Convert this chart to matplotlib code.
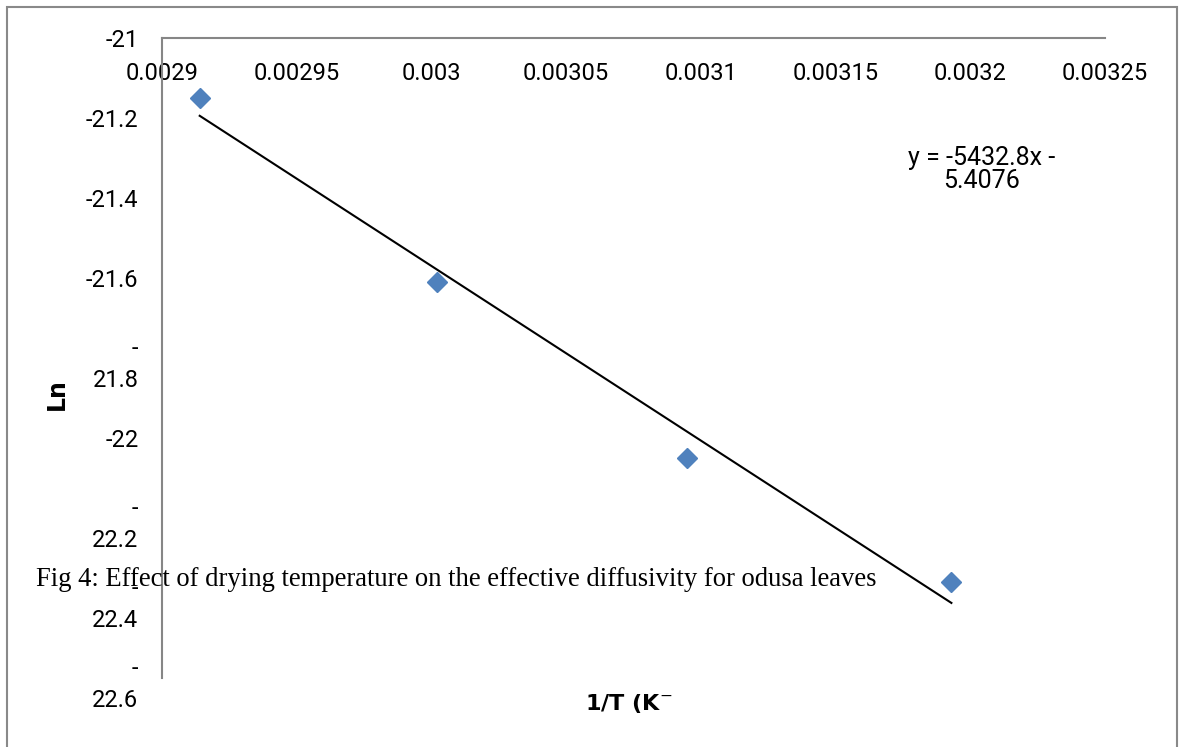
import numpy as np
import matplotlib
matplotlib.use('Agg')
import matplotlib.pyplot as plt
from matplotlib.patches import Rectangle

# Data (1/T in 1/K, ln of effective diffusivity)
inv_T = np.array([0.002914, 0.003002, 0.003095, 0.003193])
ln_D = np.array([-21.15, -21.61, -22.05, -22.36])

x_ticks = [0.0029, 0.00295, 0.003, 0.00305, 0.0031, 0.00315, 0.0032, 0.00325]
x_tick_labels = ['0.0029', '0.00295', '0.003', '0.00305', '0.0031', '0.00315', '0.0032', '0.00325']
y_ticks = [-22.6, -22.4, -22.2, -22.0, -21.8, -21.6, -21.4, -21.2, -21.0]
y_tick_labels = ['-\n22.6', '-\n22.4', '-\n22.2', '-22', '-\n21.8', '-21.6', '-21.4', '-21.2', '-21']

eq_text = 'y = -5432.8x -\n5.4076'
caption = 'Fig 4: Effect of drying temperature on the effective diffusivity for odusa leaves'

sans = ['Roboto', 'DejaVu Sans']
blue = '#4F81BD'
axis_gray = '#868686'

fig = plt.figure(figsize=(11.79, 7.47), dpi=100)
ax = fig.add_axes([0.1374, 0.0924, 0.7998, 0.8567])

# linear trendline over the data range
coef = np.polyfit(inv_T, ln_D, 1)
xs = np.array([inv_T.min(), inv_T.max()])
ax.plot(xs, np.polyval(coef, xs), color='black', linewidth=1.5, zorder=2)
ax.plot(inv_T, ln_D, linestyle='none', marker='D', markersize=10,
        color=blue, markeredgecolor=blue, zorder=3)

ax.set_xlim(0.0029, 0.00325)
ax.set_ylim(-22.6, -21.0)

# Excel style: x axis crosses at y = -21 (top)
ax.spines['bottom'].set_position(('data', -21.0))
ax.spines['top'].set_visible(False)
ax.spines['right'].set_visible(False)
for s in ('bottom', 'left'):
    ax.spines[s].set_color(axis_gray)
    ax.spines[s].set_linewidth(1.5)

ax.set_xticks(x_ticks)
ax.set_xticklabels(x_tick_labels, family=sans, fontsize=17)
ax.set_yticks(y_ticks)
ax.set_yticklabels(y_tick_labels, family=sans, fontsize=17, linespacing=1.45)
ax.tick_params(axis='x', length=0, pad=17)
ax.tick_params(axis='y', length=0, pad=17)
ax.patch.set_visible(False)

ax.set_ylabel('Ln', fontsize=17, fontweight='bold')
ax.yaxis.set_label_coords(-0.099, 0.444)
ax.set_xlabel('1/T (K$^{-}$', fontsize=16, fontweight='bold')
ax.xaxis.set_label_coords(0.495, -0.022)

ax.text(0.869, 0.794, eq_text, transform=ax.transAxes, ha='center', va='center',
        family=sans, fontsize=18, linespacing=0.95)

fig.text(0.0305, 0.2236, caption, family='Liberation Serif', fontsize=19.2,
         ha='left', va='center')

# outer chart border
fig.patches.append(Rectangle((0.006, -0.02), 0.9923, 1.0106, transform=fig.transFigure,
                             fill=False, edgecolor='#898989', linewidth=1.5))

fig.savefig('out.png', dpi=100)
